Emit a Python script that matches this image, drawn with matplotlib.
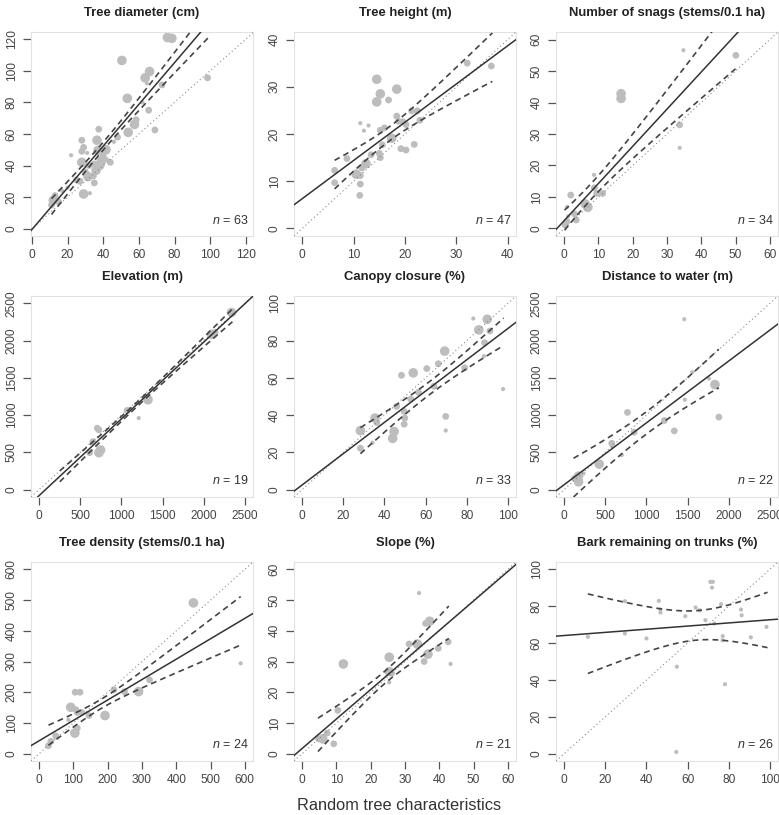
import matplotlib
matplotlib.use('Agg')
import matplotlib.pyplot as plt
import numpy as np

plt.rcParams['font.family'] = ['Liberation Sans', 'DejaVu Sans']
plt.rcParams['mathtext.fontset'] = 'custom'
plt.rcParams['mathtext.it'] = 'Liberation Sans:italic'
plt.rcParams['mathtext.rm'] = 'Liberation Sans'

# ---------------- data ----------------
titles = ["Tree diameter (cm)", "Tree height (m)", "Number of snags (stems/0.1 ha)",
          "Elevation (m)", "Canopy closure (%)", "Distance to water (m)",
          "Tree density (stems/0.1 ha)", "Slope (%)", "Bark remaining on trunks (%)"]
n_values = [63, 47, 34, 19, 33, 22, 24, 21, 26]
axis_max = [120, 40, 60, 2500, 100, 2500, 600, 60, 100]
tick_step = [20, 10, 10, 500, 20, 500, 100, 10, 20]

# regression line: intercept, slope
reg_a = [-0.5, 6.3, 2.5, -80, 2.5, 66, 42, 1.7, 64.1]
reg_b = [1.32, 0.81, 1.18, 1.03, 0.84, 0.83, 0.664, 0.96, 0.0854]
# confidence band: x start, x end, centre, half-width at centre, asymptotic slope
ci_x0 = [11, 6.3, 0.1, 250, 28.3, 113, 27, 4.6, 11.5]
ci_x1 = [99, 37, 50, 2350, 98, 1880, 588, 42.8, 98.9]
ci_xc = [40, 17, 8, 1200, 62, 1000, 180, 24, 65]
ci_h0 = [2.5, 1.5, 2.5, 30, 3.5, 150, 15, 2, 8]
ci_k = [0.15, 0.245, 0.25, 0.07, 0.18, 0.24, 0.19, 0.26, 0.375]

diam_x = [76, 78.5, 50.5, 98.5, 66, 63.5, 64.5, 73, 53.5, 65.5, 58.5, 57.5, 54, 69, 37.5, 28, 36.5, 46,
          29, 28, 31, 22, 37, 41.5, 40, 42, 28, 32, 38, 36, 34.5, 31.5, 29, 35, 32.5, 12, 13, 17, 25,
          15, 11, 44, 35, 39, 30, 27, 20, 48, 62]
diam_y = [121, 120.5, 106.5, 95.5, 99.5, 95.5, 92, 91, 82.5, 75, 69, 66, 61, 62.5, 63, 56, 56, 55,
          51.5, 49, 48, 46.5, 49.5, 50, 46, 44, 42, 40, 40, 37, 33.5, 33, 22, 29, 22.5, 18, 21, 24, 31,
          17, 15, 42, 41, 43, 36, 30, 26, 58, 80]
diam_s = [3, 3, 3, 2, 3, 3, 1, 2, 3, 2, 2, 3, 3, 2, 2, 2, 3, 1,
          2, 2, 1, 1, 3, 3, 2, 1, 3, 2, 3, 3, 2, 3, 3, 2, 1, 3, 2, 1, 2,
          2, 2, 2, 2, 3, 2, 2, 1, 2, 1]

height_x = [14.5, 15.2, 14.5, 18.4, 16.8, 11.3, 12, 12.9, 15.2, 16, 18.4, 18.7, 19.6, 20.2, 21.3, 22.4,
            22.9, 19.2, 20.2, 21.8, 15.6, 17.4, 15, 15.2, 13.4, 12.4, 11.6, 10.5, 11.3, 11.3, 11.2,
            6.3, 6.3, 8.7, 32.1, 36.8]
height_y = [31.6, 28.5, 26.8, 29.5, 27.2, 22.3, 20.7, 21.8, 20.8, 21.3, 23.8, 22.7, 22.6, 22, 24.9, 24.9,
            22.9, 16.9, 16.6, 17.8, 17.7, 19.1, 15.9, 15, 15.6, 13.7, 12.8, 11.5, 11.2, 9.4, 7,
            12.3, 9.7, 14.8, 35, 34.4]
height_s = [3, 3, 3, 3, 2, 1, 1, 1, 2, 2, 2, 2, 2, 2, 2, 2,
            2, 2, 2, 2, 2, 3, 2, 2, 2, 3, 2, 3, 2, 2, 2,
            2, 2, 2, 2, 2]

snag_x = [16.6, 16.6, 34.8, 50.1, 33.7, 33.7, 8.7, 1.9, 8.8, 11.2, 9.5, 0.8, 6.1, 6.9, 3, 3.5, 0.8, 0.3, 1.1]
snag_y = [42.8, 41.3, 56.6, 55, 32.9, 25.6, 17, 10.6, 12.9, 11.1, 11.1, 6.8, 7.8, 6.7, 4.6, 2.7, 2.2, 1.1, 3.8]
snag_s = [3, 3, 1, 2, 2, 1, 1, 2, 2, 2, 2, 1, 3, 3, 2, 2, 2, 2, 1]

elev_x = [2339, 2097, 2140, 1323, 1069, 1210, 706, 726, 653, 613, 746, 726]
elev_y = [2378, 2086, 2110, 1207, 1063, 960, 824, 802, 644, 495, 531, 495]
elev_s = [3, 3, 2, 3, 2, 1, 2, 2, 2, 2, 3, 3]

canopy_x = [83.2, 90, 85.9, 91.3, 88.7, 88.4, 79, 69.3, 66.2, 60.6, 54, 48.3, 64.1, 56.5, 52.8, 45.9,
            49.6, 49.9, 49.6, 35.4, 36.3, 44.7, 44, 34.2, 28.3, 28.3, 69.8, 69.8, 97.7]
canopy_y = [91.9, 91.5, 85.8, 85.2, 78.9, 71.7, 65.4, 74.4, 67.6, 65, 62.7, 61.4, 55.5, 52.3, 48.6, 44.7,
            42, 38.4, 35.1, 38.4, 36, 31.2, 27.5, 25.2, 31.7, 22.2, 39.3, 31.7, 54]
canopy_s = [1, 3, 3, 2, 2, 1, 2, 3, 2, 2, 3, 2, 2, 2, 2, 2,
            2, 2, 2, 3, 2, 3, 3, 1, 3, 2, 2, 1, 1]

water_x = [1460, 1557, 1760, 1833, 1881, 1468, 1218, 1339, 769, 850, 578, 700, 425, 235, 174, 174, 125, 587]
water_y = [2288, 1577, 1491, 1410, 973, 1207, 928, 788, 1036, 770, 622, 464, 342, 216, 180, 104, 149, 577]
water_s = [1, 1, 1, 3, 2, 1, 2, 2, 2, 2, 2, 1, 3, 1, 3, 3, 2, 1]

dens_x = [450, 588, 322, 290, 249, 218, 192, 145, 105, 119, 92, 107, 111, 124, 85, 111, 104, 48, 34, 27]
dens_y = [491, 294, 240, 202, 202, 208, 124, 124, 200, 200, 151, 143, 134, 134, 110, 83, 67, 58, 40, 26]
dens_s = [3, 1, 2, 3, 2, 2, 3, 2, 2, 2, 3, 2, 2, 2, 1, 2, 3, 2, 2, 2]

slope_x = [34.1, 36, 37.2, 31.2, 33.6, 36.7, 35.6, 39.7, 42.6, 43.3, 25.4, 25.4, 26.1, 25.4, 12, 10.4,
           7.3, 6, 4.8, 9.2]
slope_y = [52.3, 42.4, 43.1, 35.7, 35.7, 32.4, 30, 34.3, 36.4, 29.2, 31.4, 26.7, 26.2, 23.2, 29.2, 14.1,
           6.7, 4.8, 4.8, 3.2]
slope_s = [1, 2, 3, 2, 3, 3, 2, 2, 2, 1, 3, 3, 2, 1, 3, 2,
           2, 3, 2, 2]

bark_x = [11.5, 29.5, 29.5, 40, 46, 46.8, 46.8, 54.8, 54.5, 58.9, 63.9, 65.8, 68.7, 71.1, 72.3, 71.9,
          76.3, 77.1, 78.2, 86, 86.3, 90.8, 98.4, 73, 77]
bark_y = [63.4, 65.2, 82.7, 62.5, 82.9, 78.2, 76.6, 47.2, 0.9, 74.6, 79.3, 77.8, 72.4, 93.2, 93.2, 90.1,
          81.1, 63.8, 37.7, 78.2, 75.1, 63.1, 68.8, 70.6, 61.5]
bark_s = [1] * 25

xs = [diam_x, height_x, snag_x, elev_x, canopy_x, water_x, dens_x, slope_x, bark_x]
ys = [diam_y, height_y, snag_y, elev_y, canopy_y, water_y, dens_y, slope_y, bark_y]
ss = [diam_s, height_s, snag_s, elev_s, canopy_s, water_s, dens_s, slope_s, bark_s]

# ---------------- layout ----------------
W, H = 779, 815
fig = plt.figure(figsize=(W / 100, H / 100), dpi=100)
col_left = [31, 294, 556]
col_w = 222
row_top = [32, 296, 562]
row_h = [204, 201, 199]

size_map = {1: 9, 2: 24, 3: 48}
point_col = '#bdbdbd'
tick_col = '#555555'

for i in range(9):
    r, c = divmod(i, 3)
    rect = [col_left[c] / W, 1 - (row_top[r] + row_h[r]) / H, col_w / W, row_h[r] / H]
    ax = fig.add_axes(rect)
    m = axis_max[i]
    if i == 0:
        ax.set_xlim(-0.5, 124)
        ax.set_ylim(-4.6, 124.5)
    else:
        ax.set_xlim(-0.04 * m, 1.04 * m)
        ax.set_ylim(-0.04 * m, 1.04 * m)
    ticks = np.arange(0, m + tick_step[i] / 2, tick_step[i])
    ax.set_xticks(ticks)
    ax.set_yticks(ticks)
    ax.set_xticklabels([f"{int(t)}" for t in ticks])
    ax.set_yticklabels([f"{int(t)}" for t in ticks], rotation=90, va='center')
    ax.tick_params(direction='out', length=5.5, width=0.9, color=tick_col,
                   labelsize=8.6, labelcolor='#444444', pad=4)
    for sp in ax.spines.values():
        sp.set_color('#e2e2e2')
        sp.set_linewidth(0.8)

    # points
    ax.scatter(xs[i], ys[i], s=[size_map[v] for v in ss[i]], color=point_col,
               edgecolors='none', zorder=2)
    # 1:1 line
    ax.axline((0, 0), slope=1, color='#8a8a8a', lw=0.8, linestyle=(0, (1, 2.5)), zorder=3)
    # regression line
    ax.axline((0, reg_a[i]), slope=reg_b[i], color='#333333', lw=1.1, zorder=4)
    # confidence band
    cx = np.linspace(ci_x0[i], ci_x1[i], 100)
    fit = reg_a[i] + reg_b[i] * cx
    hw = np.sqrt(ci_h0[i] ** 2 + (ci_k[i] * (cx - ci_xc[i])) ** 2)
    for sgn in (1, -1):
        ax.plot(cx, fit + sgn * hw, color='#444444', lw=1.2, linestyle=(0, (3.5, 2.5)), zorder=4)

    ax.text(1 - 4 / col_w, 16 / row_h[r], r'$n$ = ' + str(n_values[i]), transform=ax.transAxes,
            ha='right', va='center', fontsize=9, color='#333333')
    ax.annotate(titles[i], xy=(0.5, 1), xycoords='axes fraction', xytext=(0, 19 * 0.72),
                textcoords='offset points', ha='center', va='center',
                fontsize=9.4, fontweight='bold', color='#222222')

fig.text(399 / W, 1 - 806 / H, "Random tree characteristics", ha='center', va='center',
         fontsize=11.8, color='#333333')

fig.savefig('out.png', dpi=100)
